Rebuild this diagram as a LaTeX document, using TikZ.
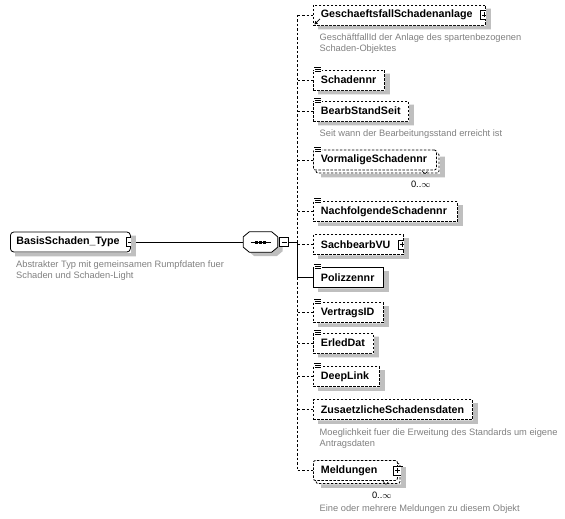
\documentclass[tikz,border=0pt]{standalone}
\usepackage{fontspec}
\setmainfont{Liberation Sans}
\usetikzlibrary{arrows.meta,positioning}
\newcommand\elemfont{\bfseries\fontsize{10.7}{12}\selectfont}
\newcommand\docfont{\fontsize{9.3}{11}\selectfont}
% the little "content" mark on the top left corner of a box
\newcommand\fieldmark[1]{%
  \fill[white] ([xshift=0.5pt,yshift=-2.5pt]#1.north west) rectangle ([xshift=8.5pt,yshift=3.5pt]#1.north west);
  \draw[line width=0.7pt]
    ([xshift=1pt,yshift=2.5pt]#1.north west) -- ++(7,0)
    ([xshift=2pt,yshift=0.5pt]#1.north west) -- ++(6,0)
    ([xshift=2pt,yshift=-1.5pt]#1.north west) -- ++(6,0);}
% grey shadow strips right of and below a box; #2 = offset of a back copy
\newcommand\boxshadow[2]{%
  \fill[shadowfill]
    ([xshift=#2pt+0.4pt,yshift=-#2pt-4pt]#1.north east) -- ([xshift=#2pt+5pt,yshift=-#2pt-4pt]#1.north east)
    -- ([xshift=#2pt+5pt,yshift=-#2pt-4pt]#1.south east) -- ([xshift=#2pt+5pt,yshift=-#2pt-4pt]#1.south west)
    -- ([xshift=#2pt+5pt,yshift=-#2pt-0.4pt]#1.south west) -- ([xshift=#2pt+0.4pt,yshift=-#2pt-0.4pt]#1.south east)
    -- cycle;}
\tikzset{
  shadowfill/.style={fill=black!25},
  elem/.style={draw, fill=white, line width=0.8pt, anchor=west, minimum height=20,
               inner xsep=7.5pt, inner ysep=0pt, align=left, font=\elemfont},
  reqelem/.style={elem},
  optelem/.style={elem, dash pattern=on 2.5pt off 1.5pt},
  manyelem/.style={optelem, rounded corners=2pt},
  manyback/.style={draw, fill=white, line width=0.8pt, rounded corners=2pt, dash pattern=on 2.5pt off 1.5pt},
  typebox/.style={draw, fill=white, line width=0.8pt, rounded corners=3.5pt, anchor=west,
               minimum height=20, inner xsep=6pt, inner ysep=0pt, align=left, font=\elemfont},
  seqbox/.style={minimum width=34, minimum height=20, inner sep=0pt},
  togglebox/.style={draw, solid, sharp corners, fill=white, line width=0.8pt, minimum size=9pt, inner sep=0pt},
  minustoggle/.style={togglebox, path picture={\draw[line width=0.8pt]
      ([xshift=2pt]path picture bounding box.west) -- ([xshift=-2pt]path picture bounding box.east);}},
  plustoggle/.style={togglebox, path picture={\draw[line width=0.8pt]
      ([xshift=2pt]path picture bounding box.west) -- ([xshift=-2pt]path picture bounding box.east)
      ([yshift=-2pt]path picture bounding box.north) -- ([yshift=2pt]path picture bounding box.south);}},
  doc/.style={anchor=north west, inner sep=0pt, align=left, text=black!50, font=\docfont},
  mult/.style={anchor=north east, inner sep=0pt, font=\fontsize{9.3}{11}\selectfont},
  link/.style={line width=0.8pt},
  optlink/.style={link, dash pattern=on 2.5pt off 2pt},
}
\begin{document}
\begin{tikzpicture}[x=1pt, y=-1pt]
  \useasboundingbox (0,0) rectangle (565,519);
  % second copy behind the repeating elements
  \draw[manyback] (316,153) rectangle ++(123,20);
  \draw[manyback] (316,463.5) rectangle ++(84,20);
  % complex type and its sequence
  \node[typebox, text width=108] (basis) at (10,242) {BasisSchaden\_Type};
  \node[minustoggle] (basism) at (basis.east) {};
  \node[seqbox] (seq) at (260.5,242) {};
  \fill[shadowfill] ([xshift=10pt,yshift=-4pt]seq.north west) -- ([xshift=-1pt,yshift=-4pt]seq.north east)
    -- ([xshift=5pt,yshift=-9pt]seq.north east) -- ([xshift=5pt,yshift=1pt]seq.south east)
    -- ([xshift=-1pt,yshift=-4pt]seq.south east) -- ([xshift=11pt,yshift=-4pt]seq.south west)
    -- ([xshift=5pt,yshift=1pt]seq.south west) -- ([xshift=5pt,yshift=-9pt]seq.north west) -- cycle;
  \draw[link, fill=white] ([xshift=6pt]seq.north west) -- ([xshift=-6pt]seq.north east)
    -- ([yshift=-5pt]seq.north east) -- ([yshift=5pt]seq.south east)
    -- ([xshift=-6pt]seq.south east) -- ([xshift=6pt]seq.south west)
    -- ([yshift=5pt]seq.south west) -- ([yshift=-5pt]seq.north west) -- cycle;
  \node[minustoggle] (seqm) at (284,242) {};
  \coordinate (bus) at (297.5,242);
  \draw[link] ([xshift=-10pt]seq.center) -- ([xshift=10pt]seq.center);
  \foreach \d in {-4.3,0,4.3}
    \fill ([xshift=\d pt]seq.center) +(-1.5,-1.5) rectangle +(1.5,1.5);
  \node[doc] (basisdoc) at ([xshift=6pt,yshift=-8pt]basis.south west)
    {Abstrakter Typ mit gemeinsamen Rumpfdaten fuer\\Schaden und Schaden-Light};
  % connectors
  \draw[link] (basism.east) -- (seq.west);
  \draw[link] (seqm.east) -- (bus);
  % children
  \node[optelem, text width=157]  (gesch)  at (313,15)    {GeschaeftsfallSchadenanlage};
  \node[optelem, text width=56]   (schad)  at (313,80)    {Schadennr};
  \node[optelem, text width=80]   (bearb)  at (313,111)   {BearbStandSeit};
  \node[manyelem, text width=108] (vorm)   at (313,160)   {VormaligeSchadennr};
  \node[optelem, text width=129]  (nachf)  at (313,211.5) {NachfolgendeSchadennr};
  \node[optelem, text width=75]   (sach)   at (313,244.5) {SachbearbVU};
  \node[reqelem, text width=55]   (poliz)  at (313,277.5) {Polizzennr};
  \node[optelem, text width=55]   (vertr)  at (313,312.5) {VertragsID};
  \node[optelem, text width=45]   (erled)  at (313,343)   {ErledDat};
  \node[optelem, text width=51]   (deep)   at (313,376.5) {DeepLink};
  \node[optelem, text width=144]  (zusatz) at (313,409.5) {ZusaetzlicheSchadensdaten};
  \node[manyelem, text width=69]  (meld)   at (313,470.5) {Meldungen};
  \node[plustoggle] (geschp) at ([xshift=-1pt]gesch.east) {};
  \node[plustoggle] (sachp)  at ([xshift=-1pt]sach.east) {};
  \node[plustoggle] (meldp)  at (meld.east) {};
  \foreach \n in {schad,bearb,vorm,nachf,poliz,vertr,erled,deep}
    {\fieldmark{\n}}
  \draw[line width=0.8pt, -{Triangle[length=3pt,width=3.5pt]}]
    ([xshift=7pt,yshift=6.5pt]gesch.south west) -- ([xshift=1.5pt,yshift=1pt]gesch.south west);
  % bus and branches
  \draw[optlink] (gesch.west -| bus) -- (bus);
  \draw[link] (bus) -- (poliz.west -| bus);
  \draw[optlink] (poliz.west -| bus) -- (meld.west -| bus);
  \foreach \n in {gesch,schad,bearb,vorm,nachf,sach,vertr,erled,deep,zusatz,meld}
    \draw[optlink] (\n.west -| bus) -- (\n.west);
  \draw[link] (poliz.west -| bus) -- (poliz.west);
  % occurrences
  \node[mult] (vormocc) at ([xshift=-6pt,yshift=-10.5pt]vorm.south east) {0..$\infty$};
  \node[mult] (meldocc) at ([xshift=-6pt,yshift=-10.5pt]meld.south east) {0..$\infty$};
  \draw[line width=0.6pt] ([xshift=-15pt]vorm.south east) -- ++(3,4) -- ++(2.5,-3);
  \draw[line width=0.6pt] ([xshift=-15pt]meld.south east) -- ++(3,4) -- ++(2.5,-3);
  % documentation
  \node[doc] (geschdoc) at ([xshift=6.5pt,yshift=-8.5pt]gesch.south west)
    {GeschäftfallId der Anlage des spartenbezogenen\\Schaden-Objektes};
  \node[doc] (bearbdoc) at ([xshift=6.5pt,yshift=-8.5pt]bearb.south west)
    {Seit wann der Bearbeitungsstand erreicht ist};
  \node[doc] (zusatzdoc) at ([xshift=6.5pt,yshift=-8.5pt]zusatz.south west)
    {Moeglichkeit fuer die Erweitung des Standards um eigene\\Antragsdaten};
  \node[doc] (melddoc) at ([xshift=6.5pt,yshift=-24pt]meld.south west)
    {Eine oder mehrere Meldungen zu diesem Objekt};
  % shadows, drawn last as strips outside the boxes
  \foreach \n in {basis,gesch,schad,bearb,nachf,sach,poliz,vertr,erled,deep,zusatz}
    {\boxshadow{\n}{0}}
  \boxshadow{vorm}{3}
  \boxshadow{meld}{3}
\end{tikzpicture}
\end{document}
